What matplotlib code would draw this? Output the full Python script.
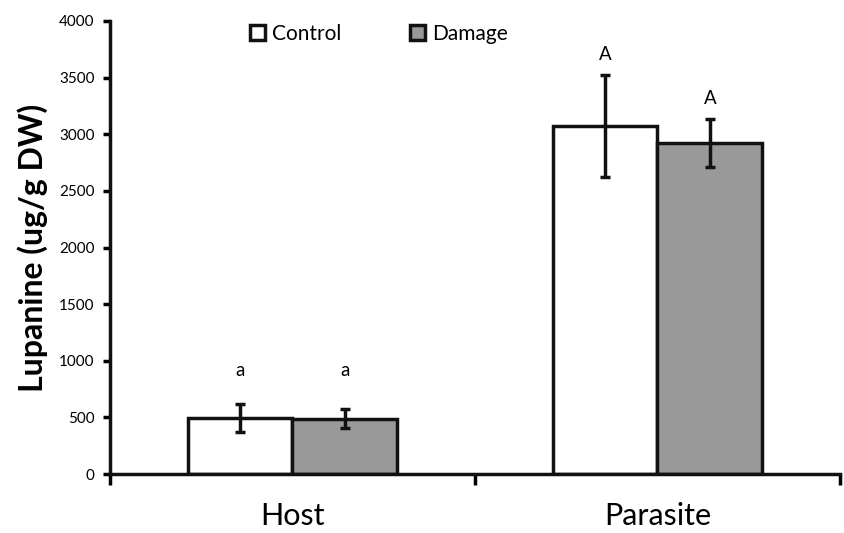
import matplotlib.pyplot as plt
import numpy as np

# data
groups = ["Host", "Parasite"]
control = [492, 3073]
control_err = [124, 453]
damage = [490, 2926]
damage_err = [82, 212]
control_letters = ["a", "A"]
damage_letters = ["a", "A"]
control_letter_y = [918, 3700]
damage_letter_y = [918, 3320]

plt.rcParams["font.family"] = ["Lato", "DejaVu Sans"]

fig = plt.figure(figsize=(8.45, 5.33), dpi=100)
ax = fig.add_axes([110 / 845, 1 - 474 / 533, 730 / 845, 453 / 533])

x = np.arange(len(groups))
w = 0.287
lw = 2.5

ax.bar(x - w / 2, control, w, color="white", edgecolor="#111111", linewidth=lw,
       label="Control", zorder=2)
ax.bar(x + w / 2, damage, w, color="#999999", edgecolor="#111111", linewidth=lw,
       label="Damage", zorder=2)
ax.errorbar(x - w / 2, control, yerr=control_err, fmt="none", ecolor="#111111",
            elinewidth=2.5, capsize=3.5, capthick=2.5, zorder=3)
ax.errorbar(x + w / 2, damage, yerr=damage_err, fmt="none", ecolor="#111111",
            elinewidth=2.5, capsize=3.5, capthick=2.5, zorder=3)

for i in range(len(groups)):
    ax.text(x[i] - w / 2, control_letter_y[i], control_letters[i], ha="center",
            va="center", fontsize=13.5)
    ax.text(x[i] + w / 2, damage_letter_y[i], damage_letters[i], ha="center",
            va="center", fontsize=13.5)

ax.set_xlim(-0.5, 1.5)
ax.set_ylim(0, 4000)
ax.set_yticks(np.arange(0, 4001, 500))
ax.tick_params(axis="y", direction="out", length=5, width=2.5, labelsize=11, pad=6)

ax.set_xticks([-0.5, 0.5, 1.5])
ax.set_xticklabels([])
ax.set_xticks(x, minor=True)
ax.set_xticklabels(groups, minor=True, fontsize=22)
ax.tick_params(axis="x", which="major", direction="out", length=8, width=2.5)
ax.tick_params(axis="x", which="minor", length=0, pad=20)

for s in ["top", "right"]:
    ax.spines[s].set_visible(False)
for s in ["left", "bottom"]:
    ax.spines[s].set_linewidth(2.5)
    ax.spines[s].set_color("#111111")

ax.set_ylabel("Lupanine (ug/g DW)", fontsize=23, fontweight="bold", labelpad=8)

ax.legend(loc="upper center", bbox_to_anchor=(0.368, 1.035), ncol=2, frameon=False,
          fontsize=15, handlelength=0.75, handleheight=0.75, handletextpad=0.3,
          columnspacing=3.3)

fig.savefig("out.png", dpi=100)
